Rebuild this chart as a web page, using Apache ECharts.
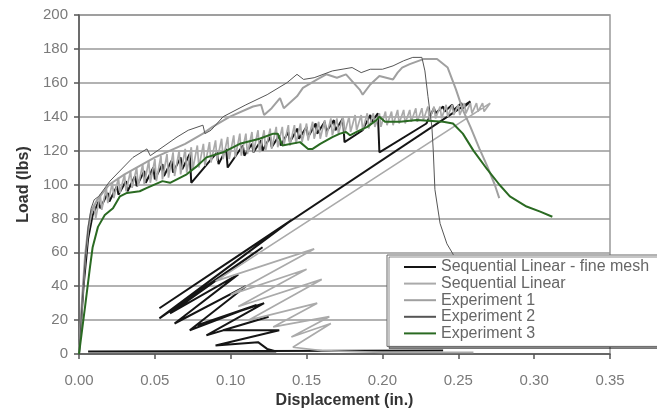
<!DOCTYPE html>
<html>
<head>
<meta charset="utf-8">
<script src="https://cdn.jsdelivr.net/npm/echarts@6/dist/echarts.min.js"></script>
<style>
  html, body { margin: 0; padding: 0; background: #fff; }
  #main { width: 657px; height: 417px; }
</style>
</head>
<body>
<div id="main"></div>
<script>
// axis ticks
var xTicks = [0, 0.05, 0.10, 0.15, 0.20, 0.25, 0.30, 0.35];
var yTicks = [0, 20, 40, 60, 80, 100, 120, 140, 160, 180, 200];

var seriesNames = ['Sequential Linear - fine mesh', 'Sequential Linear', 'Experiment 1', 'Experiment 2', 'Experiment 3'];

// Sequential Linear - fine mesh: saw-tooth, snap-back fan, tail near zero
var fineMesh = [
  [0,0],[0.003,40],[0.006,68],[0.009,82],[0.013,90],[0.014,86],
  [0.019,95],[0.020,90],[0.025,99],[0.026,94],[0.031,102],[0.032,96],
  [0.037,105],[0.038,99],[0.043,108],[0.044,101],[0.049,110],[0.050,103],
  [0.055,112],[0.056,105],[0.061,114],[0.062,107],[0.067,116],[0.068,109],
  [0.073,118],[0.074,101],[0.091,119],[0.092,112],[0.097,121],[0.098,110],
  [0.108,123],[0.109,117],[0.114,124],[0.115,119],[0.120,126],[0.121,120],
  [0.126,128],[0.127,122],[0.132,129],[0.133,123],[0.138,131],[0.139,125],
  [0.144,133],[0.145,127],[0.150,134],[0.151,128],[0.156,136],[0.157,130],
  [0.162,137],[0.163,131],[0.168,138],[0.169,132],[0.174,139],[0.175,125],
  [0.187,132],[0.188,134],[0.192,141],[0.193,137],[0.197,142],[0.198,119],
  [0.229,136],[0.230,138],[0.234,145],[0.235,142],[0.240,146],[0.241,143],
  [0.246,147],[0.247,144],[0.252,148],[0.253,145],[0.258,149],
  [0.053,27],[0.140,79],[0.053,21],[0.121,63],[0.060,24],[0.105,47],
  [0.063,18],[0.110,40],[0.073,14],[0.117,29],[0.078,17],[0.122,30],
  [0.084,11],[0.125,22],[0.095,14],[0.132,14],[0.090,5],[0.118,7],
  [0.124,3],[0.130,1.5],[0.006,1.5],[0.240,2]
];

// Sequential Linear (coarse mesh)
var seqLinear = [
  [0,0],[0.002,30],[0.004,55],[0.006,72],[0.008,82],
  [0.010,88],[0.011,80],[0.014,94],[0.015,85],[0.018,98],[0.019,89],
  [0.022,101],[0.023,92],[0.026,104],[0.027,95],[0.030,106],[0.031,96],
  [0.034,108],[0.035,98],[0.038,110],[0.039,99],[0.042,112],[0.043,100],
  [0.046,114],[0.047,101],[0.050,115],[0.051,102],[0.054,117],[0.055,103],
  [0.058,118],[0.059,104],[0.062,119],[0.063,105],[0.066,120],[0.067,106],
  [0.070,121],[0.071,107],[0.074,122],[0.075,109],[0.078,123],[0.079,110],
  [0.082,124],[0.083,111],[0.086,125],[0.087,113],[0.090,126],[0.091,114],
  [0.094,127],[0.095,115],[0.098,128],[0.099,115],[0.102,129],[0.103,116],
  [0.106,130],[0.107,117],[0.110,130],[0.111,118],[0.114,131],[0.115,119],
  [0.118,132],[0.119,119],[0.122,132],[0.123,120],[0.126,133],[0.127,121],
  [0.130,134],[0.131,122],[0.134,134],[0.135,123],[0.138,135],[0.139,123],
  [0.142,135],[0.143,124],[0.146,136],[0.147,125],[0.150,136],[0.151,126],
  [0.154,137],[0.155,127],[0.158,137],[0.159,127],[0.162,138],[0.163,128],
  [0.166,139],[0.167,129],[0.170,139],[0.171,130],[0.174,140],[0.175,130],
  [0.178,140],[0.179,131],[0.182,141],[0.183,132],[0.186,141],[0.187,132],
  [0.190,142],[0.191,133],[0.194,142],[0.195,134],[0.198,142],[0.199,134],
  [0.202,143],[0.203,135],[0.206,143],[0.207,135],[0.210,144],[0.211,136],
  [0.214,144],[0.215,136],[0.218,144],[0.219,137],[0.222,145],[0.223,137],
  [0.226,145],[0.227,138],[0.230,146],[0.231,138],[0.234,146],[0.235,139],
  [0.238,146],[0.239,139],[0.242,147],[0.243,140],[0.246,147],[0.247,141],
  [0.250,147],[0.251,141],[0.254,148],[0.255,142],[0.258,148],[0.259,142],
  [0.262,148],[0.263,143],[0.266,148],[0.267,143],[0.271,148],
  [0.090,43],[0.155,62],[0.100,35],[0.150,50],[0.105,28],[0.160,44],
  [0.112,20],[0.157,30],[0.128,16],[0.165,22],[0.140,10],[0.166,18],
  [0.148,8],[0.141,4],[0.160,2],[0.200,1],[0.260,1]
];

// Experiment 1
var exp1 = [
  [0,0],[0.002,32],[0.004,58],[0.006,74],[0.008,84],[0.012,91],[0.020,100],
  [0.030,106],[0.040,111],[0.050,116],[0.060,120],[0.070,124],[0.0817,130],
  [0.088,134],[0.0995,140],[0.1147,146],[0.120,147],[0.122,141],[0.127,145],
  [0.1325,151],[0.135,145],[0.1437,152],[0.1476,157],[0.157,162],[0.163,165],
  [0.170,163],[0.176,165],[0.181,160],[0.185,156],[0.187,153],[0.192,159],
  [0.198,164],[0.207,162],[0.210,166],[0.213,169],[0.218,171],[0.227,174],
  [0.236,174],[0.243,169],[0.2485,156],[0.253,144],[0.258,134],[0.264,121],
  [0.269,111],[0.274,100],[0.277,92]
];

// Experiment 2
var exp2 = [
  [0,0],[0.002,30],[0.004,55],[0.006,75],[0.008,86],[0.010,91],[0.013,93],
  [0.0204,102],[0.0356,116],[0.0448,121],[0.047,117],[0.0534,121],[0.0646,128],
  [0.072,132],[0.0817,135],[0.083,130],[0.087,132],[0.095,140],[0.110,147],
  [0.124,153],[0.137,160],[0.1437,165],[0.148,162],[0.155,163],[0.167,167],
  [0.180,169],[0.186,166],[0.192,168],[0.200,168],[0.207,170],[0.214,173],
  [0.220,175],[0.226,175],[0.228,167],[0.230,152],[0.2326,134],[0.2335,120],
  [0.2346,97],[0.238,77],[0.2425,65],[0.2465,59],[0.252,45],[0.258,25],[0.262,10]
];

// Experiment 3
var exp3 = [
  [0,0],[0.004,28],[0.0072,51],[0.009,63],[0.0125,75],[0.017,82],[0.0224,86],
  [0.027,93],[0.0316,95],[0.040,96],[0.0448,98],[0.055,102],[0.060,101],
  [0.071,106],[0.078,111],[0.084,116],[0.095,119],[0.106,124],[0.119,127],
  [0.128,130],[0.131,130],[0.134,123],[0.1457,125],[0.151,121],[0.154,121],
  [0.159,124],[0.167,128],[0.172,130],[0.176,131],[0.1786,129],[0.183,131],
  [0.190,134],[0.196,138],[0.198,140],[0.2017,137],[0.2115,137],[0.2227,138],
  [0.240,137],[0.2465,136],[0.253,130],[0.260,120],[0.269,109],[0.277,100],
  [0.284,93],[0.295,87],[0.304,84],[0.312,81]
];

var chart = echarts.init(document.getElementById('main'));

var tickFont = { fontFamily: 'Liberation Sans', fontSize: 15, color: '#7a7a7a' };

var option = {
  animation: false,
  backgroundColor: '#fff',
  grid: {
    left: 79, right: 47, top: 15, bottom: 63,
    show: true, borderColor: '#999', borderWidth: 1.5
  },
  legend: {
    data: seriesNames,
    orient: 'vertical',
    left: 387, top: 255,
    padding: [4, 70, 5, 16],
    itemWidth: 32, itemHeight: 14, itemGap: 0.6,
    backgroundColor: '#fff',
    borderColor: '#666', borderWidth: 1,
    shadowColor: 'rgba(0,0,0,0.45)', shadowOffsetX: 2, shadowOffsetY: 2, shadowBlur: 0,
    itemStyle: { opacity: 0 },
    textStyle: { fontFamily: 'Liberation Sans', fontSize: 16, lineHeight: 16, color: '#666' },
    selectedMode: false
  },
  xAxis: {
    type: 'value',
    min: xTicks[0], max: xTicks[xTicks.length - 1], interval: 0.05,
    name: 'Displacement (in.)',
    nameLocation: 'middle', nameGap: 38,
    nameTextStyle: { fontFamily: 'Liberation Sans', fontSize: 16, fontWeight: 'bold', color: '#333' },
    axisLine: { lineStyle: { color: '#555', width: 1.5 } },
    axisTick: { show: true, length: 5, lineStyle: { color: '#555', width: 1.5 } },
    axisLabel: Object.assign({ margin: 19, formatter: function (v) { return v.toFixed(2); } }, tickFont),
    splitLine: { show: false }
  },
  yAxis: {
    type: 'value',
    min: yTicks[0], max: yTicks[yTicks.length - 1], interval: 20,
    name: 'Load (lbs)',
    nameLocation: 'middle', nameGap: 46,
    nameTextStyle: { fontFamily: 'Liberation Sans', fontSize: 16, fontWeight: 'bold', color: '#333' },
    axisLine: { show: true, lineStyle: { color: '#555', width: 1.5 } },
    axisTick: { show: true, length: 5, lineStyle: { color: '#555', width: 1.5 } },
    axisLabel: Object.assign({ margin: 11 }, tickFont),
    splitLine: { show: true, lineStyle: { color: '#999', width: 1.5 } }
  },
  series: [
    { name: seriesNames[0], type: 'line', data: fineMesh, symbol: 'none',
      lineStyle: { color: '#151515', width: 2 }, itemStyle: { color: '#151515' } },
    { name: seriesNames[1], type: 'line', data: seqLinear, symbol: 'none',
      lineStyle: { color: '#aaaaaa', width: 1.7 }, itemStyle: { color: '#aaaaaa' } },
    { name: seriesNames[2], type: 'line', data: exp1, symbol: 'none',
      lineStyle: { color: '#a0a0a0', width: 2 }, itemStyle: { color: '#a0a0a0' } },
    { name: seriesNames[3], type: 'line', data: exp2, symbol: 'none',
      lineStyle: { color: '#555', width: 1 }, itemStyle: { color: '#555' } },
    { name: seriesNames[4], type: 'line', data: exp3, symbol: 'none',
      lineStyle: { color: '#2a6a22', width: 2 }, itemStyle: { color: '#2a6a22' } }
  ]
};

chart.setOption(option);
</script>
</body>
</html>
